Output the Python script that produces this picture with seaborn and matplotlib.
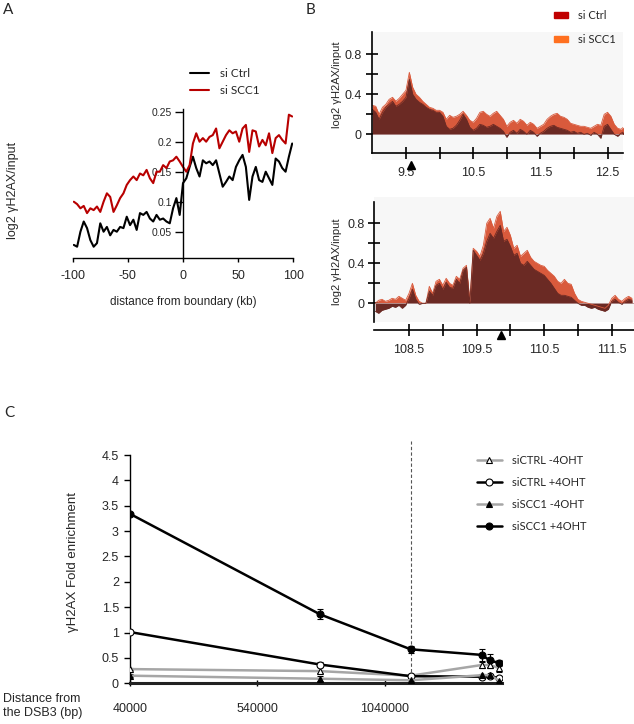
import numpy as np
import matplotlib
matplotlib.use("Agg")
import matplotlib.pyplot as plt
import matplotlib.transforms as mtransforms
from matplotlib.lines import Line2D
from matplotlib.patches import Patch
import seaborn as sns

# ---- panel A: average profile around boundary ----
a_dist = np.arange(-99, 100, 3)
a_ctrl = [0.028, 0.025, 0.050, 0.067, 0.056, 0.036, 0.025, 0.031, 0.064, 0.050,
          0.058, 0.044, 0.053, 0.050, 0.058, 0.056, 0.075, 0.061, 0.070, 0.053,
          0.081, 0.078, 0.083, 0.072, 0.067, 0.078, 0.070, 0.072, 0.067, 0.064,
          0.089, 0.106, 0.078,
          0.131, 0.139, 0.158, 0.175, 0.156, 0.142, 0.169, 0.164, 0.167, 0.161,
          0.169, 0.147, 0.125, 0.133, 0.142, 0.136, 0.158, 0.169, 0.178, 0.158,
          0.103, 0.142, 0.158, 0.136, 0.133, 0.150, 0.139, 0.128, 0.172, 0.167,
          0.156, 0.150, 0.175, 0.197]
a_scc1 = [0.100, 0.096, 0.089, 0.093, 0.081, 0.089, 0.086, 0.092, 0.083, 0.100,
          0.114, 0.108, 0.083, 0.094, 0.106, 0.114, 0.128, 0.136, 0.142, 0.136,
          0.147, 0.144, 0.153, 0.139, 0.131, 0.150, 0.150, 0.161, 0.156, 0.167,
          0.169, 0.175, 0.167,
          0.158, 0.150, 0.161, 0.197, 0.214, 0.200, 0.206, 0.200, 0.208, 0.211,
          0.222, 0.189, 0.200, 0.211, 0.219, 0.214, 0.217, 0.200, 0.222, 0.228,
          0.183, 0.219, 0.217, 0.192, 0.203, 0.194, 0.214, 0.181, 0.206, 0.211,
          0.203, 0.197, 0.245, 0.242]

# ---- panel B top: 9.0-12.75 Mb ----
b1_pos = np.linspace(9.0, 12.75, 76)
b1_scc1 = [0.29, 0.28, 0.20, 0.27, 0.30, 0.35, 0.37, 0.33, 0.36, 0.40,
           0.44, 0.62, 0.47, 0.40, 0.37, 0.33, 0.30, 0.27, 0.26, 0.24,
           0.24, 0.22, 0.15, 0.19, 0.17, 0.18, 0.20, 0.23, 0.19, 0.14,
           0.12, 0.16, 0.22, 0.23, 0.20, 0.18, 0.21, 0.23, 0.19, 0.15,
           0.08, 0.12, 0.14, 0.11, 0.15, 0.13, 0.09, 0.12, 0.10, 0.06,
           0.08, 0.10, 0.15, 0.18, 0.20, 0.21, 0.18, 0.17, 0.15, 0.11,
           0.10, 0.09, 0.08, 0.08, 0.07, 0.06, 0.08, 0.10, 0.09, 0.20,
           0.22, 0.18, 0.10, 0.06, 0.05, 0.08]
b1_ctrl = [0.25, 0.22, 0.15, 0.22, 0.27, 0.30, 0.33, 0.28, 0.30, 0.33,
           0.37, 0.55, 0.40, 0.35, 0.32, 0.30, 0.27, 0.25, 0.24, 0.22,
           0.22, 0.18, 0.08, 0.05, 0.06, 0.09, 0.14, 0.20, 0.15, 0.07,
           0.04, 0.06, 0.10, 0.09, 0.07, 0.08, 0.10, 0.08, 0.06, 0.03,
           -0.03, 0.02, 0.04, 0.01, 0.05, 0.03, 0.00, 0.04, 0.02, -0.02,
           0.01, 0.03, 0.06, 0.08, 0.09, 0.07, 0.06, 0.05, 0.04, 0.02,
           0.03, 0.01, 0.02, 0.00, 0.01, -0.01, 0.02, 0.00, -0.04, 0.08,
           0.10, 0.05, 0.00, -0.02, 0.01, 0.03]

# ---- panel B bottom: 108.0-111.8 Mb ----
b2_pos = np.linspace(108.0, 111.8, 77)
b2_scc1 = [0.00, 0.03, 0.04, 0.02, 0.03, 0.05, 0.04, 0.07, 0.05, 0.03,
           0.10, 0.20, 0.08, 0.02, 0.00, 0.00, 0.17, 0.10, 0.22, 0.24,
           0.18, 0.25, 0.20, 0.18, 0.27, 0.24, 0.35, 0.38, 0.02, 0.55,
           0.52, 0.47, 0.58, 0.80, 0.85, 0.75, 0.87, 0.92, 0.72, 0.76,
           0.68, 0.55, 0.58, 0.47, 0.50, 0.53, 0.46, 0.42, 0.40, 0.38,
           0.37, 0.33, 0.30, 0.27, 0.22, 0.20, 0.24, 0.20, 0.19, 0.10,
           0.04, 0.02, 0.01, 0.00, -0.01, -0.02, -0.03, -0.04, -0.05, -0.02,
           0.05, 0.08, 0.04, 0.02, 0.05, 0.07, 0.05]
b2_ctrl = [-0.08, -0.10, -0.07, -0.06, -0.05, -0.03, -0.04, -0.02, -0.05, -0.02,
           0.05, 0.14, 0.04, -0.01, 0.00, 0.00, 0.12, 0.08, 0.18, 0.20,
           0.14, 0.21, 0.16, 0.15, 0.24, 0.20, 0.33, 0.36, 0.00, 0.53,
           0.48, 0.43, 0.50, 0.62, 0.70, 0.65, 0.72, 0.78, 0.62, 0.64,
           0.57, 0.48, 0.50, 0.40, 0.38, 0.42, 0.38, 0.34, 0.32, 0.30,
           0.28, 0.24, 0.20, 0.15, 0.10, 0.08, 0.08, 0.07, 0.06, 0.03,
           0.00, -0.02, -0.02, -0.04, -0.05, -0.04, -0.06, -0.07, -0.08, -0.06,
           0.02, 0.04, 0.01, -0.01, 0.02, 0.04, 0.03]

# ---- panel C: ChIP-qPCR ----
c_pos = [40000, 786000, 1142500, 1421000, 1454000, 1490000]
c_ctrl_minus = [0.28, 0.24, 0.15, 0.36, 0.36, 0.30]
c_ctrl_minus_err = [0.02, 0.03, 0.03, 0.06, 0.06, 0.08]
c_ctrl_plus = [1.01, 0.37, 0.14, 0.13, 0.14, 0.10]
c_ctrl_plus_err = [0.01, 0.04, 0.03, 0.02, 0.02, 0.02]
c_scc1_minus = [0.15, 0.09, 0.06, 0.16, 0.16, 0.05]
c_scc1_minus_err = [0.03, 0.05, 0.02, 0.02, 0.02, 0.02]
c_scc1_plus = [3.34, 1.36, 0.67, 0.56, 0.45, 0.40]
c_scc1_plus_err = [0.02, 0.10, 0.07, 0.12, 0.12, 0.05]
c_dsb_boundary = 1142500

sns.set_theme(style="white")
plt.rcParams['font.family'] = ['Liberation Sans', 'DejaVu Sans']
plt.rcParams['axes.unicode_minus'] = False
LEG_FONT = ['Lato', 'DejaVu Sans']

W, H = 634, 724
fig = plt.figure(figsize=(W / 100, H / 100), dpi=100)


def box(x0, y0, x1, y1):
    # pixel box (top-left origin) -> figure fraction rect
    return [x0 / W, 1 - y1 / H, (x1 - x0) / W, (y1 - y0) / H]


# ---------------- panel A ----------------
axA = fig.add_axes(box(72.7, 109, 293.3, 257.7))
sns.lineplot(x=a_dist, y=a_ctrl, color='black', lw=1.5, ax=axA, legend=False)
sns.lineplot(x=a_dist, y=a_scc1, color='#b80000', lw=1.5, ax=axA, legend=False)
axA.set_xlim(-100, 100)
axA.set_ylim(0.0067, 0.2545)
axA.spines['left'].set_position(('data', 0))
for s in ['top', 'right']:
    axA.spines[s].set_visible(False)
for s in ['left', 'bottom']:
    axA.spines[s].set_color('black')
    axA.spines[s].set_linewidth(1.0)
axA.set_yticks([0.05, 0.1, 0.15, 0.2, 0.25])
axA.set_yticklabels(['0.05', '0.1', '0.15', '0.2', '0.25'])
axA.set_xticks([-100, -50, 0, 50, 100])
axA.tick_params(axis='y', left=True, direction='out', length=6, width=1, labelsize=7.5, pad=2, color='black')
axA.tick_params(axis='x', bottom=True, direction='out', length=3, width=1, labelsize=9, pad=6, color='black')
axA.set_xlabel('')
axA.set_ylabel('')
fig.text(13 / W, 1 - 190 / H, 'log2 \u03b3H2AX/input', rotation=90, ha='center', va='center', fontsize=9)
fig.text(183 / W, 1 - 302 / H, 'distance from boundary (kb)', ha='center', va='center', fontsize=8.5)
fig.legend(handles=[Line2D([], [], color='black', lw=1.5), Line2D([], [], color='#b80000', lw=1.5)],
           labels=['si Ctrl', 'si SCC1'], loc='upper left', bbox_to_anchor=(190 / W, 1 - 68 / H),
           frameon=False, borderpad=0, borderaxespad=0, handlelength=1.6, handletextpad=0.95,
           labelspacing=0.55, prop={'family': LEG_FONT, 'size': 8.5})

# ---------------- panel B ----------------
SCC1_FILL = '#d95a3c'
CTRL_FILL = '#6b2a24'


def profile(ax, pos, scc1, ctrl):
    ax.set_facecolor('#f7f7f7')
    ax.fill_between(pos, 0, scc1, color=SCC1_FILL, lw=0)
    sns.lineplot(x=pos, y=scc1, color=SCC1_FILL, lw=0.6, ax=ax, legend=False)
    ax.fill_between(pos, 0, ctrl, color=CTRL_FILL, lw=0)
    sns.lineplot(x=pos, y=ctrl, color=CTRL_FILL, lw=0.6, ax=ax, legend=False)
    ax.axhline(0, color='#b09090', lw=0.6, zorder=1)
    for s in ['top', 'right']:
        ax.spines[s].set_visible(False)
    for s in ['left', 'bottom']:
        ax.spines[s].set_color('black')
        ax.spines[s].set_linewidth(1.2)
    ax.set_yticks([0, 0.4, 0.8])
    ax.set_yticklabels(['0', '0.4', '0.8'])
    ax.set_yticks([0.2, 0.6], minor=True)
    ax.tick_params(axis='both', which='both', bottom=True, left=True, direction='inout',
                   length=8, width=1.2, color='black', labelsize=9)
    ax.tick_params(axis='y', which='both', pad=3)
    ax.tick_params(axis='x', which='both', pad=6)
    ax.set_xlabel('')
    ax.set_ylabel('')


axB1 = fig.add_axes(box(371.7, 32, 623, 160))
profile(axB1, b1_pos, b1_scc1, b1_ctrl)
axB1.set_xlim(8.99, 12.73)
axB1.set_ylim(-0.257, 1.023)
axB1.spines['bottom'].set_position(('data', -0.19))
axB1.spines['left'].set_bounds(-0.19, 1.023)
axB1.set_xticks([9.5, 10.5, 11.5, 12.5])
axB1.set_xticklabels(['9.5', '10.5', '11.5', '12.5'])
axB1.set_xticks([10, 11, 12], minor=True)
axB1.plot([9.57], [-0.04], marker='^', color='black', ms=6,
          transform=mtransforms.blended_transform_factory(axB1.transData, axB1.transAxes),
          clip_on=False)

axB2 = fig.add_axes(box(374.3, 197, 634, 322))
profile(axB2, b2_pos, b2_scc1, b2_ctrl)
axB2.set_xlim(107.986, 111.83)
axB2.set_ylim(-0.187, 1.063)
axB2.spines['bottom'].set_position(('outward', 6))
axB2.spines['left'].set_bounds(-0.187, 1.016)
axB2.set_xticks([108.5, 109.5, 110.5, 111.5])
axB2.set_xticklabels(['108.5', '109.5', '110.5', '111.5'])
axB2.set_xticks([109, 110, 111], minor=True)
axB2.plot([109.86], [-0.105], marker='^', color='black', ms=6,
          transform=mtransforms.blended_transform_factory(axB2.transData, axB2.transAxes),
          clip_on=False)

fig.text(337 / W, 1 - 85 / H, 'log2 \u03b3H2AX/input', rotation=90, ha='center', va='center', fontsize=8)
fig.text(337 / W, 1 - 262 / H, 'log2 \u03b3H2AX/input', rotation=90, ha='center', va='center', fontsize=8)
fig.legend(handles=[Patch(color='#c00000'), Patch(color='#ff7020')], labels=['si Ctrl', 'si SCC1'],
           loc='upper left', bbox_to_anchor=(554 / W, 1 - 10 / H), frameon=False, borderpad=0,
           borderaxespad=0, handlelength=1.3, handleheight=0.55, handletextpad=0.9,
           labelspacing=1.15, prop={'family': LEG_FONT, 'size': 8})

# ---------------- panel C ----------------
axC = fig.add_axes(box(130, 455, 501.7, 683.3))
GRAY = '#a6a6a6'
series = [
    (c_ctrl_minus, c_ctrl_minus_err, GRAY, '^', 'white', 'siCTRL -4OHT'),
    (c_ctrl_plus, c_ctrl_plus_err, 'black', 'o', 'white', 'siCTRL +4OHT'),
    (c_scc1_minus, c_scc1_minus_err, GRAY, '^', 'black', 'siSCC1 -4OHT'),
    (c_scc1_plus, c_scc1_plus_err, 'black', 'o', 'black', 'siSCC1 +4OHT'),
]
handles = []
for vals, err, col, mk, mfc, lab in series:
    axC.errorbar(c_pos, vals, yerr=err, fmt='none', ecolor='black', elinewidth=0.8,
                 capsize=2.5, capthick=0.8, zorder=3)
    sns.lineplot(x=c_pos, y=vals, color=col, lw=1.8, marker=mk, markersize=5,
                 markerfacecolor=mfc, markeredgecolor='black', markeredgewidth=0.8,
                 ax=axC, legend=False, zorder=4)
    handles.append(Line2D([], [], color=col, lw=1.8, marker=mk, markersize=5,
                          markerfacecolor=mfc, markeredgecolor='black', markeredgewidth=0.8))
axC.plot([c_dsb_boundary, c_dsb_boundary], [0, 4.78], ls=(0, (3, 2)), color='#555555',
         lw=0.8, clip_on=False, zorder=2)
axC.set_xlim(40000, 1500000)
axC.set_ylim(0, 4.5)
for s in ['top', 'right']:
    axC.spines[s].set_visible(False)
axC.spines['left'].set_color('black')
axC.spines['left'].set_linewidth(1.0)
axC.spines['bottom'].set_color('#222222')
axC.spines['bottom'].set_linewidth(2.2)
yt = [0, 0.5, 1, 1.5, 2, 2.5, 3, 3.5, 4, 4.5]
axC.set_yticks(yt)
axC.set_yticklabels(['%g' % v for v in yt])
axC.set_xticks([40000, 540000, 1040000])
axC.set_xticklabels(['40000', '540000', '1040000'])
axC.tick_params(axis='y', left=True, direction='out', length=4, width=1, labelsize=9, pad=4, color='black')
axC.tick_params(axis='x', bottom=True, direction='inout', length=5, width=1, labelsize=9, pad=12, color='black')
axC.set_xlabel('')
axC.set_ylabel('')
fig.text(73 / W, 1 - 562 / H, '\u03b3H2AX Fold enrichment', rotation=90, ha='center', va='center', fontsize=9.5)
fig.text(3 / W, 1 - 706 / H, 'Distance from\nthe DSB3 (bp)', ha='left', va='center', fontsize=9,
         linespacing=1.25)
fig.legend(handles=handles, labels=[s[5] for s in series], loc='upper left',
           bbox_to_anchor=(476.7 / W, 1 - 455 / H), frameon=False, borderpad=0, borderaxespad=0,
           handlelength=2.3, handletextpad=0.9, labelspacing=0.98,
           prop={'family': LEG_FONT, 'size': 8})

# panel letters
for lab, x, y in [('A', 3, 10), ('B', 306, 10), ('C', 4, 413)]:
    fig.text(x / W, 1 - y / H, lab, ha='left', va='center', fontsize=11, family=LEG_FONT)

fig.savefig('out.png', dpi=100)
